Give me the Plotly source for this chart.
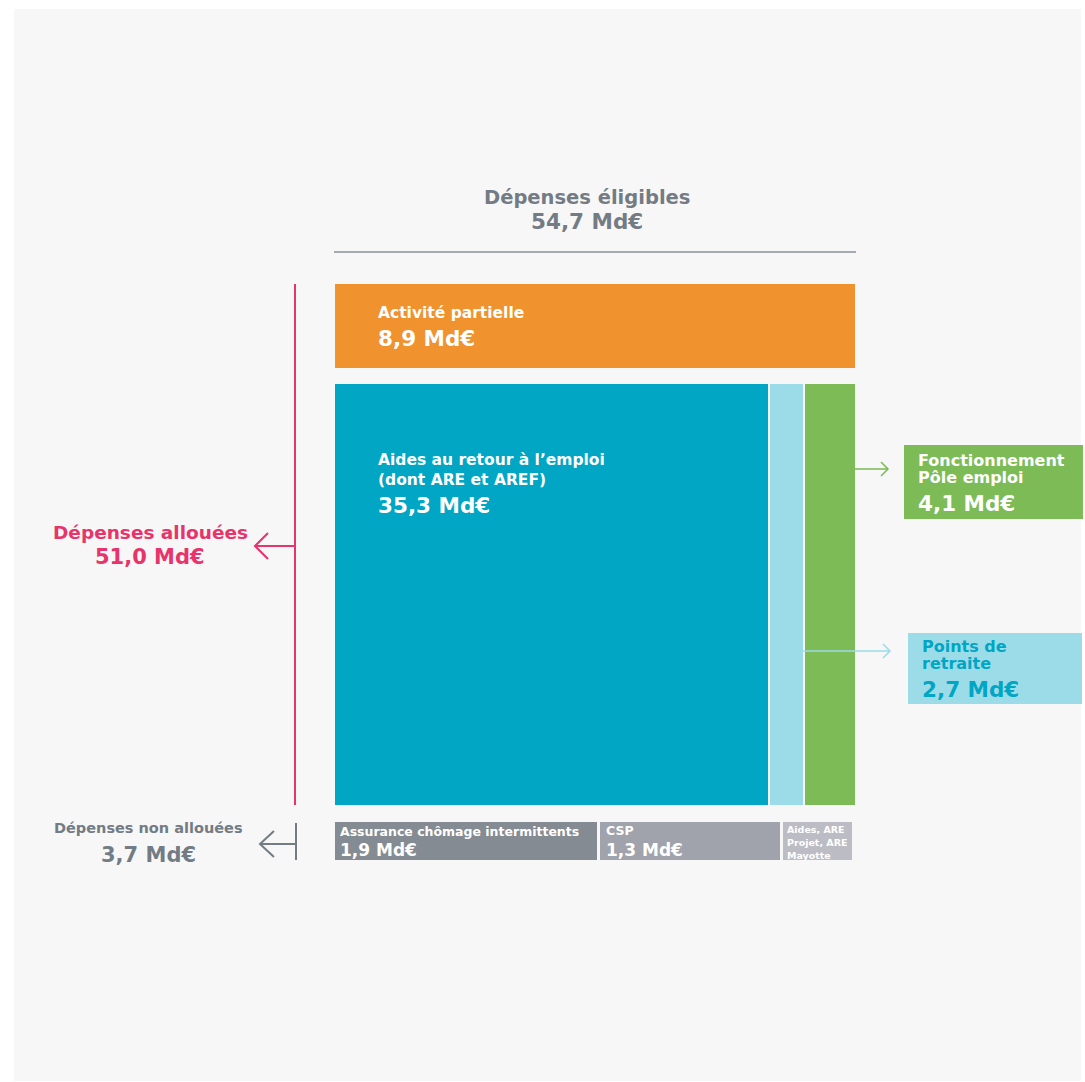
import plotly.graph_objects as go

# ---------------- data ----------------
eligible_label = "Dépenses éligibles"
allocated_label = "Dépenses allouées"
unallocated_label = "Dépenses non allouées"

top_label = "Activité partielle"
top_value = 8.9

main_labels = ["Aides au retour à l’emploi<br>(dont ARE et AREF)", "Points de<br>retraite", "Fonctionnement<br>Pôle emploi"]
main_values = [35.3, 2.7, 4.1]

unalloc_labels = ["Assurance chômage intermittents", "CSP", "Aides, ARE<br>Projet, ARE<br>Mayotte"]
unalloc_values = [1.9, 1.3, 0.5]

allocated_total = top_value + sum(main_values)
unallocated_total = sum(unalloc_values)
eligible_total = allocated_total + unallocated_total

# ---------------- style ----------------
FONT = "DejaVu Sans"
GRAY_TXT = "#737b84"
PINK = "#e8336b"
ORANGE = "#f0922e"
TEAL = "#00a6c4"
LBLUE = "#9cdce8"
GREEN = "#7cbb55"
main_colors = [TEAL, LBLUE, GREEN]
unalloc_colors = ["#858b92", "#a0a3ab", "#bcbcc4"]

X0, BLOCK_W, GAP = 335, 520, 2
TOP_Y0, TOP_H = 284, 84
MAIN_Y0, MAIN_H = 384, 421
BOT_Y0, BOT_H, BOT_W, BOT_GAP = 822, 38, 517, 3


def md(v):
    return f"{v:.1f}".replace(".", ",") + " Md€"


def fnt(size, color, weight=700):
    return dict(family=FONT, size=size, color=color, weight=weight)


def layout_row(values, x0, total_w, gap):
    scale = (total_w - gap * (len(values) - 1)) / sum(values)
    cells, x = [], x0
    for v in values:
        w = v * scale
        cells.append((x, x + w))
        x += w + gap
    return cells


main_cells = layout_row(main_values, X0, BLOCK_W, GAP)
top_cell = layout_row([top_value], X0, BLOCK_W, GAP)[0]
bot_cells = layout_row(unalloc_values, X0, BOT_W, BOT_GAP)

fig = go.Figure()

# top bar
fig.add_trace(go.Bar(
    x=[(top_cell[0] + top_cell[1]) / 2], width=[top_cell[1] - top_cell[0]],
    base=[TOP_Y0], y=[TOP_H], marker=dict(color=ORANGE, line=dict(width=0)),
    hovertext=[f"{top_label} : {md(top_value)}"], hoverinfo="text", showlegend=False))
# main row
fig.add_trace(go.Bar(
    x=[(a + b) / 2 for a, b in main_cells], width=[b - a for a, b in main_cells],
    base=[MAIN_Y0] * len(main_cells), y=[MAIN_H] * len(main_cells),
    marker=dict(color=main_colors, line=dict(width=0)),
    hovertext=[f"{l.replace('<br>', ' ')} : {md(v)}" for l, v in zip(main_labels, main_values)],
    hoverinfo="text", showlegend=False))
# bottom row
fig.add_trace(go.Bar(
    x=[(a + b) / 2 for a, b in bot_cells], width=[b - a for a, b in bot_cells],
    base=[BOT_Y0] * len(bot_cells), y=[BOT_H] * len(bot_cells),
    marker=dict(color=unalloc_colors, line=dict(width=0)),
    hovertext=[f"{l.replace('<br>', ' ')} : {md(v)}" for l, v in zip(unalloc_labels, unalloc_values)],
    hoverinfo="text", showlegend=False))

shapes = []
ann = []


def lines(x, y0, dy, text, font):
    for i, part in enumerate(text.split("<br>")):
        ann.append(dict(x=x, y=y0 + i * dy, text=part, xanchor="left", font=font))


# background panel
shapes.append(dict(type="rect", x0=14, x1=1081, y0=9, y1=1081,
                   fillcolor="#f7f7f7", line=dict(width=0), layer="below"))

# title
main_left, main_right = X0, main_cells[-1][1]
title_x = (main_left + main_right) / 2 - 8
ann.append(dict(x=title_x, y=197, text=eligible_label, font=fnt(19.5, GRAY_TXT)))
ann.append(dict(x=title_x, y=221, text=md(eligible_total), font=fnt(21.5, GRAY_TXT, 800)))
shapes.append(dict(type="line", x0=main_left - 1, x1=main_right + 1, y0=252, y1=252,
                   line=dict(color="#8a9099", width=1.5)))

# top bar labels
TX = 41
ann.append(dict(x=top_cell[0] + TX, y=313, text=top_label, xanchor="left", font=fnt(15.5, "white", 600)))
ann.append(dict(x=top_cell[0] + TX, y=338, text=md(top_value), xanchor="left", font=fnt(21.5, "white", 800)))

# ARE labels
lines(main_cells[0][0] + TX, 460, 20, main_labels[0], fnt(15.5, "white", 600))
ann.append(dict(x=main_cells[0][0] + TX, y=505, text=md(main_values[0]), xanchor="left", font=fnt(21.5, "white", 800)))

# Fonctionnement callout
shapes.append(dict(type="rect", x0=904, x1=1083, y0=445, y1=519, fillcolor=GREEN, line=dict(width=0)))
lines(916, 460, 17.5, main_labels[2], fnt(16, "white", 700))
ann.append(dict(x=916, y=503, text=md(main_values[2]), xanchor="left", font=fnt(21.5, "white", 800)))
shapes.append(dict(type="path", path=f"M {main_cells[2][1]},469 L 888,469 M 881,462 L 888,469 L 881,476",
                   line=dict(color=GREEN, width=1.5)))

# Points de retraite callout
shapes.append(dict(type="rect", x0=908, x1=1082, y0=633, y1=704, fillcolor=LBLUE, line=dict(width=0)))
lines(920, 646, 17.5, main_labels[1], fnt(16, TEAL, 700))
ann.append(dict(x=920, y=689, text=md(main_values[1]), xanchor="left", font=fnt(21.5, TEAL, 800)))
shapes.append(dict(type="path", path=f"M {main_cells[1][1] - 1},651 L 890,651 M 883,644 L 890,651 L 883,658",
                   line=dict(color=LBLUE, width=1.5)))

# allocated bracket
shapes.append(dict(type="line", x0=295, x1=295, y0=TOP_Y0, y1=MAIN_Y0 + MAIN_H, line=dict(color=PINK, width=2)))
shapes.append(dict(type="path", path="M 295,546 L 255,546 M 268,533 L 255,546 L 268,559",
                   line=dict(color=PINK, width=2)))
ann.append(dict(x=150, y=532, text=allocated_label, font=fnt(18.5, PINK, 700)))
ann.append(dict(x=150, y=557, text=md(allocated_total), font=fnt(21, PINK, 800)))

# unallocated bracket
shapes.append(dict(type="line", x0=296, x1=296, y0=823, y1=860, line=dict(color=GRAY_TXT, width=2)))
shapes.append(dict(type="path", path="M 296,844 L 260,844 M 274,831 L 260,844 L 274,857",
                   line=dict(color=GRAY_TXT, width=2)))
ann.append(dict(x=148, y=828, text=unallocated_label, font=fnt(14.5, GRAY_TXT, 700)))
ann.append(dict(x=148, y=855, text=md(unallocated_total), font=fnt(21, GRAY_TXT, 800)))

# bottom cell labels
ann.append(dict(x=bot_cells[0][0] + 3, y=831, text=unalloc_labels[0], xanchor="left", font=fnt(12.5, "white", 700)))
ann.append(dict(x=bot_cells[0][0] + 3, y=850, text=md(unalloc_values[0]), xanchor="left", font=fnt(17, "white", 800)))
ann.append(dict(x=bot_cells[1][0] + 4, y=830, text=unalloc_labels[1], xanchor="left", font=fnt(12.5, "white", 700)))
ann.append(dict(x=bot_cells[1][0] + 4, y=850, text=md(unalloc_values[1]), xanchor="left", font=fnt(17, "white", 800)))
lines(bot_cells[2][0] + 2, 829, 13, unalloc_labels[2], fnt(9.5, "white", 700))

for a in ann:
    a.setdefault("xref", "x")
    a.setdefault("yref", "y")
    a.setdefault("showarrow", False)
    a.setdefault("yanchor", "middle")
for s in shapes:
    s.setdefault("xref", "x")
    s.setdefault("yref", "y")

fig.update_layout(
    width=1085, height=1082, margin=dict(l=0, r=0, t=0, b=0),
    paper_bgcolor="white", plot_bgcolor="white",
    barmode="overlay", bargap=0,
    xaxis=dict(range=[0, 1085], visible=False, fixedrange=True),
    yaxis=dict(range=[1082, 0], visible=False, fixedrange=True),
    shapes=shapes, annotations=ann, font=dict(family=FONT),
)

fig.write_html("out.html", config={"displayModeBar": False},
               post_script="document.body.style.margin='0';")
